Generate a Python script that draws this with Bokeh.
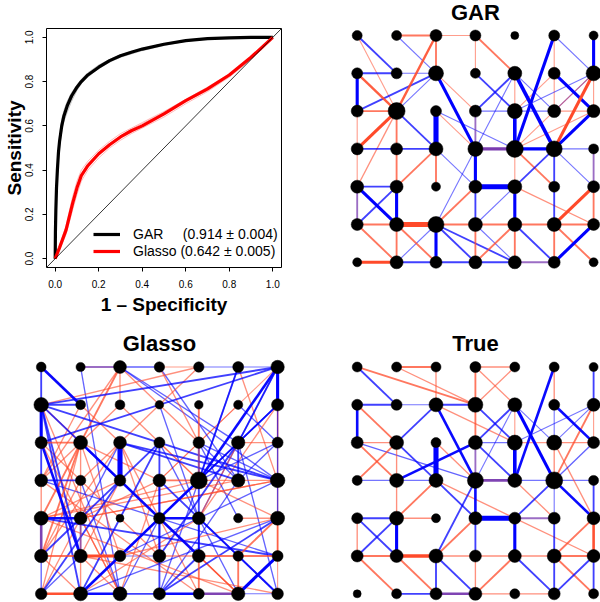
from bokeh.plotting import figure
from bokeh.layouts import column, row
from bokeh.models import Range1d, FixedTicker, NumeralTickFormatter, Slope, Legend, LegendItem, Label
from bokeh.embed import file_html
from bokeh.resources import INLINE

# ---------------- ROC data ----------------
TICKS = [0.0, 0.2, 0.4, 0.6, 0.8, 1.0]
GAR_FPR = [0, 0.001, 0.003, 0.006, 0.01, 0.015, 0.02, 0.03, 0.04, 0.055, 0.075, 0.1, 0.12,
           0.15, 0.2, 0.25, 0.3, 0.35, 0.4, 0.5, 0.6, 0.7, 0.8, 0.9, 1.0]
GAR_TPR = [0, 0.12, 0.22, 0.32, 0.40, 0.48, 0.53, 0.60, 0.645, 0.69, 0.735, 0.775, 0.80,
           0.83, 0.865, 0.895, 0.917, 0.933, 0.947, 0.969, 0.985, 0.994, 0.998, 1.0, 1.0]
GAR_REPS = [
    [0, 0.10, 0.19, 0.28, 0.36, 0.44, 0.50, 0.57, 0.62, 0.66, 0.71, 0.76, 0.79, 0.82, 0.86,
     0.89, 0.912, 0.928, 0.943, 0.966, 0.983, 0.993, 0.998, 1, 1],
    [0, 0.14, 0.25, 0.35, 0.43, 0.51, 0.56, 0.63, 0.67, 0.71, 0.75, 0.785, 0.81, 0.84, 0.875,
     0.90, 0.921, 0.937, 0.95, 0.972, 0.987, 0.995, 0.999, 1, 1],
    [0, 0.11, 0.20, 0.30, 0.38, 0.46, 0.52, 0.59, 0.635, 0.675, 0.72, 0.765, 0.795, 0.825, 0.858,
     0.888, 0.91, 0.925, 0.94, 0.963, 0.982, 0.992, 0.997, 1, 1],
]
GL_FPR = [0, 0.02, 0.05, 0.08, 0.1, 0.12, 0.15, 0.2, 0.25, 0.3, 0.35, 0.4, 0.5, 0.6, 0.7,
          0.8, 0.9, 0.95, 1.0]
GL_TPR = [0, 0.05, 0.13, 0.25, 0.32, 0.375, 0.42, 0.474, 0.515, 0.55, 0.578, 0.60, 0.654,
          0.714, 0.767, 0.83, 0.91, 0.955, 1.0]
GL_REPS = [
    [0, 0.06, 0.15, 0.28, 0.35, 0.40, 0.44, 0.49, 0.53, 0.565, 0.59, 0.615, 0.665, 0.72, 0.775,
     0.835, 0.91, 0.955, 1],
    [0, 0.04, 0.11, 0.22, 0.29, 0.35, 0.40, 0.455, 0.50, 0.535, 0.565, 0.59, 0.64, 0.70, 0.755,
     0.82, 0.90, 0.95, 1],
    [0, 0.05, 0.14, 0.26, 0.33, 0.38, 0.43, 0.48, 0.52, 0.555, 0.585, 0.61, 0.66, 0.71, 0.76,
     0.825, 0.905, 0.945, 1],
]
LEGEND_LABELS = ["GAR     (0.914 \u00b1 0.004)", "Glasso (0.642 \u00b1 0.005)"]

# ---------------- network data: (col1,row1,col2,row2,sign,|weight|) ----------------
# sign: 1 = positive (red), -1 = negative (blue), 0 = mixed (purple)
GRID_N = 7
GAR_EDGES = [
    (1,1,2,2,-1,.25),(1,1,2,3,1,.1),(2,1,3,1,1,.25),(2,1,3,2,-1,.1),(3,1,4,1,1,.1),
    (3,1,3,2,1,.25),(3,1,2,3,1,.35),(4,1,4,2,1,.1),(4,1,5,2,1,.25),(6,1,5,4,-1,.5),
    (6,1,6,2,1,.1),(6,1,7,2,-1,.1),(7,1,7,2,-1,.5),(1,2,2,2,-1,.25),(1,2,1,3,-1,.5),
    (1,2,2,3,1,.35),(2,2,3,2,-1,.1),(3,2,1,3,-1,.25),(3,2,2,3,-1,.1),(3,2,4,3,1,.1),
    (3,2,4,4,-1,.5),(4,2,5,3,-1,.25),(5,2,4,3,-1,.25),(5,2,4,4,-1,.1),(5,2,5,3,1,.1),
    (5,2,6,4,-1,.6),(5,2,6,3,-1,.1),(6,2,7,3,-1,.5),(6,2,6,3,1,.1),(6,2,5,3,1,.1),
    (7,2,5,3,-1,.1),(7,2,6,3,-1,.1),(7,2,6,4,1,.5),(7,2,7,3,1,.1),(7,3,5,4,1,.1),
    (7,2,5,4,1,.1),(1,3,2,3,1,.25),(1,3,1,4,1,.1),(2,3,2,4,1,.25),(2,3,3,4,-1,.25),
    (2,3,1,4,1,.5),(2,3,1,5,1,.15),(3,3,3,4,-1,.9),(3,3,4,4,1,.1),(3,3,5,4,-1,.1),
    (4,3,5,3,-1,.1),(4,3,4,4,0,.25),(5,3,5,4,-1,.6),(5,3,6,3,-1,.1),(6,3,7,3,1,.1),
    (7,3,6,4,-1,.5),(1,4,2,4,-1,.25),(2,4,3,4,-1,.25),(1,4,1,5,1,.1),(2,4,2,5,1,.25),
    (3,4,3,5,1,.25),(3,4,2,5,1,.25),(3,4,4,5,-1,.1),(4,4,5,4,0,.5),(4,4,4,5,-1,.5),
    (4,4,3,6,-1,.1),(5,4,6,4,-1,.5),(5,4,5,5,1,.1),(5,4,6,5,1,.25),(6,4,7,4,-1,.1),
    (6,4,5,5,-1,.25),(6,4,7,5,-1,.1),(6,4,6,5,-1,.25),(7,4,7,5,0,.25),(1,5,2,5,-1,.25),
    (1,5,2,6,-1,.5),(2,5,1,6,-1,.25),(1,5,1,6,0,.25),(2,5,2,6,-1,.5),(4,5,5,5,-1,.9),
    (4,5,3,6,1,.25),(4,5,4,6,-1,.25),(5,5,4,6,-1,.1),(5,5,5,6,-1,.5),(5,5,7,6,1,.15),
    (6,5,6,6,-1,.25),(7,5,6,6,1,.5),(7,5,7,6,1,.25),(1,6,2,6,1,.25),(2,6,3,6,1,.9),
    (3,6,4,6,1,.25),(4,6,5,6,1,.25),(5,6,6,6,1,.25),(6,6,7,6,1,.25),(1,6,2,7,1,.25),
    (2,6,3,7,1,.25),(3,6,2,7,-1,.1),(3,6,3,7,-1,.5),(3,6,4,7,-1,.25),(3,6,5,7,-1,.25),
    (4,6,4,7,1,.25),(4,6,5,7,-1,.1),(5,6,4,7,1,.25),(5,6,5,7,1,.25),(5,6,6,7,-1,.25),
    (6,6,6,7,1,.25),(6,6,7,7,1,.25),(7,6,6,7,-1,.5),(1,7,2,7,1,.5),(2,7,3,7,-1,.25),
    (3,7,4,7,-1,.25),(4,7,5,7,-1,.25),(5,7,6,7,0,.25),(2,6,2,7,1,.25),
]
GLASSO_EDGES = [
    (1,1,1,2,-1,.25),(1,1,2,2,-1,.4),(1,1,3,3,1,.15),(2,1,3,1,0,.25),(2,1,3,7,-1,.15),
    (3,1,4,1,-1,.15),(4,1,5,1,1,.1),(5,1,6,1,-1,.1),(6,1,7,1,-1,.1),(3,1,3,2,1,.15),
    (3,1,2,3,1,.25),(3,1,1,4,1,.15),(3,1,5,3,1,.15),(3,1,6,3,-1,.15),(3,1,7,4,-1,.15),
    (4,1,6,4,-1,.15),(4,1,5,3,1,.15),(5,1,2,4,1,.15),(5,1,1,2,1,.15),(6,1,5,4,-1,.25),
    (6,1,7,4,1,.15),(6,1,4,7,-1,.15),(7,1,1,2,-1,.25),(7,1,1,3,-1,.25),(7,1,6,3,-1,.25),
    (7,1,5,4,-1,.4),(7,1,5,5,-1,.15),(7,1,7,2,-1,.5),(7,1,4,4,1,.1),(1,2,2,2,-1,.25),
    (1,2,1,3,-1,.5),(1,2,3,4,-1,.25),(1,2,7,4,-1,.25),(1,2,2,6,-1,.25),(1,2,3,7,1,.15),
    (1,2,2,7,-1,.25),(1,2,2,3,1,.15),(2,2,1,4,1,.15),(3,2,5,4,1,.15),(3,2,1,4,1,.15),
    (4,2,5,5,-1,.15),(5,2,5,4,1,.25),(6,2,7,3,-1,.15),(6,2,4,4,1,.1),(7,2,7,3,1,.15),
    (7,2,5,4,-1,.25),(7,2,6,3,-1,.15),(7,2,5,5,1,.15),(7,2,4,5,-1,.15),(7,2,7,4,1,.15),
    (1,3,2,3,1,.25),(1,3,1,4,-1,.25),(1,3,2,6,-1,.4),(1,3,3,7,1,.15),(1,3,4,6,1,.15),
    (2,3,1,5,1,.25),(2,3,1,6,1,.25),(2,3,5,6,-1,.4),(2,3,2,7,1,.15),(2,3,3,6,1,.15),
    (2,3,4,4,1,.15),(2,3,1,7,1,.15),(3,3,3,4,-1,.9),(3,3,4,6,1,.15),(3,3,5,7,1,.15),
    (3,3,6,4,-1,.25),(3,3,7,4,-1,.25),(3,3,1,6,1,.15),(3,3,2,5,-1,.15),(4,3,4,6,-1,.25),
    (4,3,1,6,-1,.25),(4,3,2,7,-1,.25),(4,3,6,7,-1,.15),(4,3,5,4,1,.1),(5,3,6,5,-1,.15),
    (5,3,6,4,-1,.15),(5,3,7,4,-1,.15),(5,3,5,4,0,.25),(6,3,7,3,1,.15),(6,3,6,4,-1,.25),
    (6,3,4,6,-1,.25),(6,3,2,7,-1,.15),(6,3,7,7,-1,.15),(6,3,5,5,1,.15),(7,3,6,4,-1,.15),
    (7,3,5,4,-1,.15),(1,4,2,4,-1,.25),(1,4,1,5,1,.15),(1,4,7,6,-1,.15),(1,4,5,7,1,.15),
    (2,4,1,6,1,.15),(2,4,3,7,-1,.15),(3,4,1,7,-1,.25),(3,4,2,6,1,.15),(3,4,6,7,1,.15),
    (4,4,4,5,-1,.25),(4,4,5,4,1,.25),(4,4,7,7,-1,.25),(4,4,3,7,1,.15),(4,4,2,5,1,.15),
    (5,4,2,7,-1,.4),(5,4,1,5,1,.15),(5,4,6,4,1,.15),(5,4,3,6,-1,.15),(5,4,7,5,1,.15),
    (6,4,1,5,1,.15),(6,4,7,4,1,.15),(6,4,4,7,-1,.15),(7,4,2,5,1,.15),(7,4,3,6,-1,.15),
    (7,4,7,5,1,.15),(1,5,2,5,-1,.4),(1,5,1,6,0,.4),(1,5,7,6,-1,.25),(1,5,6,7,1,.15),
    (1,5,3,4,1,.15),(2,5,2,6,0,.25),(2,5,1,7,1,.15),(2,5,3,7,1,.15),(2,5,7,4,1,.15),
    (4,5,5,5,-1,.4),(4,5,4,6,-1,.25),(4,5,3,7,-1,.15),(4,5,6,7,1,.15),(5,5,5,6,-1,.25),
    (5,5,7,7,-1,.25),(5,5,2,7,1,.15),(6,5,7,5,1,.15),(7,5,6,6,1,.25),(7,5,7,6,1,.25),
    (7,5,4,7,-1,.25),(7,5,3,6,1,.15),(7,5,2,7,-1,.15),(1,6,2,6,1,.25),(1,6,1,7,-1,.15),
    (1,6,2,7,1,.15),(2,6,3,6,1,.5),(2,6,3,7,1,.15),(2,6,1,7,-1,.15),(2,6,7,7,1,.15),
    (3,6,4,6,-1,.1),(4,6,5,6,1,.15),(5,6,6,6,1,.25),(6,6,7,6,1,.25),(6,6,6,7,1,.25),
    (6,7,7,6,-1,.5),(5,6,4,7,-1,.25),(5,6,6,7,1,.15),(1,7,2,7,1,.4),(2,7,3,7,-1,.4),
    (3,7,4,7,-1,.25),(4,7,5,7,-1,.4),(5,7,6,7,0,.4),(6,7,7,7,-1,.1),(4,6,4,7,-1,.25),
    (5,4,5,6,-1,.25),(5,6,5,7,1,.25),(7,1,7,5,-1,.15),(7,5,7,7,1,.1),(1,6,1,5,-1,.1),
]
TRUE_EDGES = [
    (1,1,2,2,-1,.25),(1,1,4,2,1,.25),(2,1,3,1,1,.25),(2,1,4,2,1,.15),(3,1,3,2,1,.15),
    (4,1,4,2,1,.25),(4,1,5,1,1,.15),(4,1,5,2,1,.15),(5,1,4,2,1,.15),(6,1,5,4,-1,.4),
    (6,1,6,2,1,.15),(7,1,7,2,-1,.25),(1,2,2,2,-1,.25),(1,2,1,3,-1,.4),(1,2,2,3,1,.25),
    (2,2,3,2,-1,.1),(3,2,4,2,-1,.25),(3,2,2,3,-1,.25),(3,2,4,4,-1,.4),(3,2,5,3,1,.15),
    (4,2,4,3,1,.25),(4,2,5,3,-1,.25),(5,2,4,3,-1,.25),(5,2,4,4,-1,.1),(5,2,5,3,1,.1),
    (5,2,6,3,-1,.1),(5,2,6,4,-1,.5),(6,2,6,3,-1,.1),(6,2,7,3,-1,.4),(7,2,5,3,-1,.1),
    (7,2,6,3,-1,.1),(7,2,6,4,1,.25),(7,2,7,3,1,.1),(1,3,2,3,1,.15),(1,3,2,4,1,.25),
    (2,3,1,4,1,.25),(1,3,4,4,-1,.15),(2,3,2,4,1,.15),(2,3,3,4,-1,.25),(3,3,3,4,-1,.9),
    (3,3,4,4,1,.15),(4,3,5,3,-1,.1),(4,3,4,4,0,.25),(4,3,5,4,-1,.25),(4,3,2,4,-1,.4),
    (5,3,5,4,-1,.6),(5,3,6,3,1,.1),(6,3,7,3,1,.15),(6,3,6,4,1,.15),(6,3,7,5,1,.15),
    (7,3,6,4,-1,.15),(1,4,2,4,-1,.1),(2,4,3,4,-1,.1),(2,4,2,5,1,.15),(3,4,2,5,1,.25),
    (3,4,4,5,-1,.25),(3,4,7,6,1,.15),(4,4,5,4,0,.4),(4,4,4,5,-1,.4),(4,4,3,6,-1,.25),
    (5,4,6,4,-1,.1),(5,4,6,5,1,.15),(6,4,5,5,-1,.25),(6,4,7,4,-1,.1),(6,4,7,5,-1,.4),
    (6,4,6,5,-1,.1),(7,4,7,5,-1,.25),(1,5,2,5,-1,.25),(1,5,2,6,-1,.25),(2,5,1,6,-1,.25),
    (1,5,1,6,1,.15),(2,5,3,5,1,.15),(2,5,2,6,-1,.5),(4,5,5,5,-1,.9),(4,5,3,6,1,.25),
    (4,5,4,6,-1,.25),(5,5,6,5,0,.25),(5,5,5,6,-1,.5),(6,5,6,6,-1,.25),(7,5,6,6,1,.25),
    (7,5,7,6,1,.4),(1,6,2,6,1,.25),(2,6,3,6,1,.6),(3,6,4,6,1,.15),(4,6,5,6,1,.15),
    (5,6,6,6,1,.15),(6,6,7,6,1,.25),(1,6,2,7,1,.25),(2,6,3,7,1,.25),(3,6,3,7,-1,.25),
    (3,6,4,7,-1,.25),(4,6,4,7,1,.15),(5,6,4,7,1,.25),(5,6,6,7,-1,.25),(6,6,6,7,-1,.25),
    (6,6,7,7,1,.25),(7,6,6,7,-1,.25),(7,6,7,7,-1,.25),(2,7,3,7,-1,.25),(3,7,4,7,0,.4),
    (4,7,5,7,1,.15),(5,7,6,7,1,.15),
]
TITLES = ["GAR", "Glasso", "True"]

# ---------------- layout constants ----------------
FONT = "Liberation Sans"
COLORS = {1: "#FF4A2A", -1: "#0000FF", 0: "#7A3CB0"}
W_LEFT, W_RIGHT = 300, 300
H_TOP, H_BOT = 322, 280


def roc_figure():
    p = figure(width=W_LEFT, height=H_TOP, x_range=Range1d(-0.04, 1.04), y_range=Range1d(-0.04, 1.04),
               output_backend="svg", toolbar_location=None,
               min_border_left=41, min_border_right=19, min_border_top=28, min_border_bottom=55)
    p.grid.visible = False
    p.outline_line_color = "black"
    p.outline_line_width = 1
    p.background_fill_color = "white"
    for ax in (p.xaxis, p.yaxis):
        ax.ticker = FixedTicker(ticks=TICKS)
        ax.formatter = NumeralTickFormatter(format="0.0")
        ax.axis_line_color = None
        ax.major_tick_in = 0
        ax.major_tick_out = 4
        ax.minor_tick_line_color = None
        ax.major_label_text_font = FONT
        ax.major_label_text_font_size = "10px"
        ax.major_label_text_color = "black"
        ax.axis_label_text_font = FONT
        ax.axis_label_text_font_style = "bold"
        ax.axis_label_text_font_size = "19px"
        ax.axis_label_text_color = "black"
    p.xaxis.axis_label = "1 \u2013 Specificity"
    p.yaxis.axis_label = "Sensitivity"
    p.yaxis.major_label_orientation = "vertical"
    p.xaxis.major_label_standoff = 8
    p.xaxis.axis_label_standoff = 3
    p.yaxis.major_label_standoff = 9
    p.yaxis.axis_label_standoff = -2

    p.add_layout(Slope(gradient=1, y_intercept=0, line_color="black", line_width=0.8))
    for rep in GAR_REPS:
        p.line(GAR_FPR, rep, line_color="#B0B0B0", line_alpha=0.7, line_width=1)
    for rep in GL_REPS:
        p.line(GL_FPR, rep, line_color="#FF8C8C", line_alpha=0.6, line_width=1)
    g = p.line(GAR_FPR, GAR_TPR, line_color="black", line_width=3.2)
    r = p.line(GL_FPR, GL_TPR, line_color="#FF0000", line_width=3.2)
    legend = Legend(items=[LegendItem(label=LEGEND_LABELS[0], renderers=[g]),
                           LegendItem(label=LEGEND_LABELS[1], renderers=[r])],
                    location=(47, 8), border_line_color=None, background_fill_alpha=0,
                    padding=0, margin=0, spacing=1, glyph_width=27, glyph_height=16,
                    label_height=16, label_standoff=13, label_text_font=FONT,
                    label_text_font_size="14px", label_text_color="black")
    p.add_layout(legend)
    return p


def graph_figure(title, edges, xr, yr, w, h):
    p = figure(width=w, height=h, x_range=Range1d(*xr), y_range=Range1d(*yr),
               x_axis_type=None, y_axis_type=None, output_backend="svg",
               toolbar_location=None, min_border=0)
    p.outline_line_color = None
    p.background_fill_color = "white"
    p.border_fill_color = "white"
    deg = {(c, r): 0 for c in range(1, GRID_N + 1) for r in range(1, GRID_N + 1)}
    for (c1, r1, c2, r2, s, wt) in edges:
        deg[(c1, r1)] += 1
        deg[(c2, r2)] += 1
    ordered = sorted(edges, key=lambda e: e[5])
    x0 = [e[0] for e in ordered]
    y0 = [GRID_N + 1 - e[1] for e in ordered]
    x1 = [e[2] for e in ordered]
    y1 = [GRID_N + 1 - e[3] for e in ordered]
    col = [COLORS[e[4]] for e in ordered]
    lw = [0.6 + 5.0 * e[5] for e in ordered]
    la = [min(1.0, 0.4 + 1.4 * e[5]) for e in ordered]
    p.segment(x0=x0, y0=y0, x1=x1, y1=y1, line_color=col, line_width=lw, line_alpha=la)
    keys = list(deg.keys())
    dmin = min(deg.values())
    dmax = max(deg.values())
    nx = [k[0] for k in keys]
    ny = [GRID_N + 1 - k[1] for k in keys]
    sz = [8 + 9.0 * (deg[k] - dmin) / (dmax - dmin) for k in keys]
    p.scatter(nx, ny, size=sz, fill_color="black", line_color="black", line_width=0.5)
    p.add_layout(Label(x=(GRID_N + 1) / 2.0, y=GRID_N + 0.61, text=title, text_align="center",
                       text_baseline="middle", text_font=FONT, text_font_style="bold",
                       text_font_size="22px", text_color="black"))
    return p


# ranges chosen so that node columns/rows sit on the reference pixel grid
p_roc = roc_figure()
p_gar = graph_figure(TITLES[0], GAR_EDGES, (-0.439, 7.175), (-0.593, 7.926), W_RIGHT, H_TOP)
p_gl = graph_figure(TITLES[1], GLASSO_EDGES, (-0.033, 7.581), (0.77, 8.177), W_LEFT, H_BOT)
p_tr = graph_figure(TITLES[2], TRUE_EDGES, (-0.439, 7.175), (0.77, 8.177), W_RIGHT, H_BOT)

# the GAR panel is wrapped in its own column so its frame is not aligned to the ROC frame
layout = column(row(p_roc, column(p_gar, spacing=0), spacing=0),
                row(p_gl, p_tr, spacing=0), spacing=0)
open("out.html", "w").write(file_html(layout, INLINE))
